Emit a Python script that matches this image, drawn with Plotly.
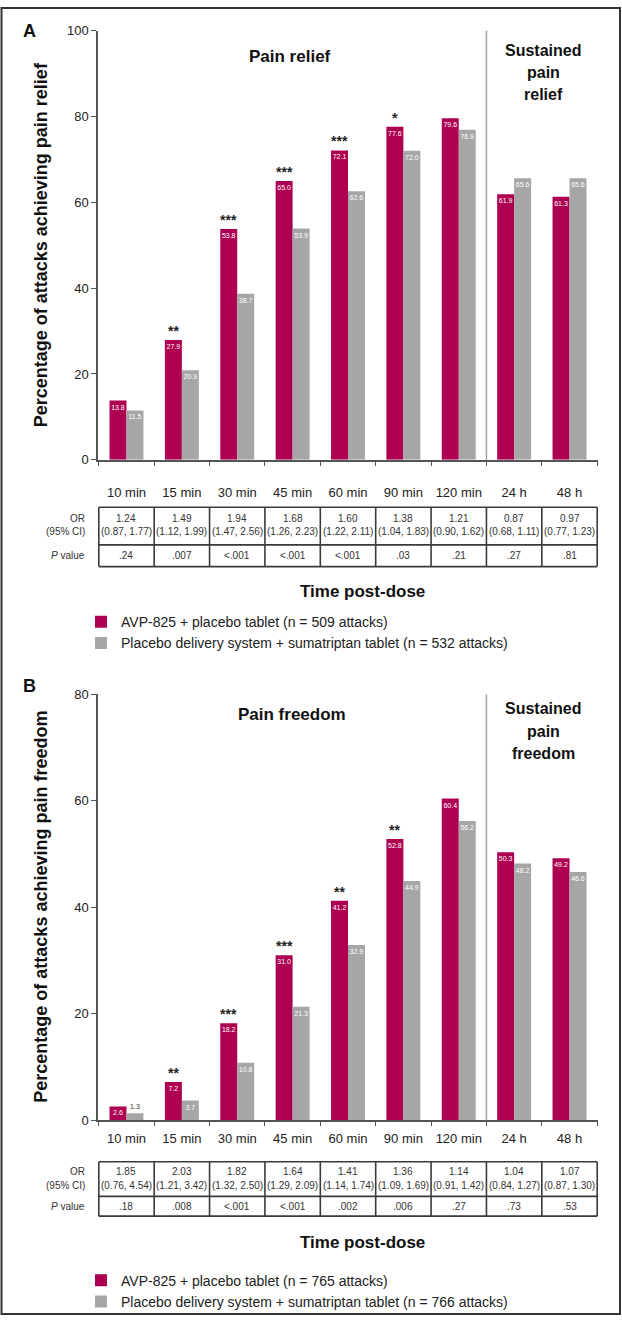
import plotly.graph_objects as go

# ------------------ CANVAS ------------------
W, H = 622, 1324
FONT = "Liberation Sans, Arial, sans-serif"
MAGENTA = "#AE0050"
GREY = "#A6A6A6"
AX = "#555555"
TXT = "#222222"


def px(x):
    return x / W


def py(y):
    return 1 - y / H


# ------------------ DATA ------------------
categories = ["10 min", "15 min", "30 min", "45 min", "60 min", "90 min", "120 min", "24 h", "48 h"]

# Panel A - pain relief
relief_avp = [13.8, 27.9, 53.8, 65.0, 72.1, 77.6, 79.6, 61.9, 61.3]
relief_suma = [11.5, 20.9, 38.7, 53.9, 62.6, 72.0, 76.9, 65.6, 65.6]
relief_stars = ["", "**", "***", "***", "***", "*", "", "", ""]
relief_or = ["1.24", "1.49", "1.94", "1.68", "1.60", "1.38", "1.21", "0.87", "0.97"]
relief_ci = ["(0.87, 1.77)", "(1.12, 1.99)", "(1.47, 2.56)", "(1.26, 2.23)", "(1.22, 2.11)",
             "(1.04, 1.83)", "(0.90, 1.62)", "(0.68, 1.11)", "(0.77, 1.23)"]
relief_p = [".24", ".007", "<.001", "<.001", "<.001", ".03", ".21", ".27", ".81"]

# Panel B - pain freedom
freedom_avp = [2.6, 7.2, 18.2, 31.0, 41.2, 52.8, 60.4, 50.3, 49.2]
freedom_suma = [1.3, 3.7, 10.8, 21.3, 32.9, 44.9, 56.2, 48.2, 46.6]
freedom_stars = ["", "**", "***", "***", "**", "**", "", "", ""]
freedom_or = ["1.85", "2.03", "1.82", "1.64", "1.41", "1.36", "1.14", "1.04", "1.07"]
freedom_ci = ["(0.76, 4.54)", "(1.21, 3.42)", "(1.32, 2.50)", "(1.29, 2.09)", "(1.14, 1.74)",
              "(1.09, 1.69)", "(0.91, 1.42)", "(0.84, 1.27)", "(0.87, 1.30)"]
freedom_p = [".18", ".008", "<.001", "<.001", ".002", ".006", ".27", ".73", ".53"]

legend_a = ["AVP-825 + placebo tablet (n = 509 attacks)",
            "Placebo delivery system + sumatriptan tablet (n = 532 attacks)"]
legend_b = ["AVP-825 + placebo tablet (n = 765 attacks)",
            "Placebo delivery system + sumatriptan tablet (n = 766 attacks)"]

fig = go.Figure()


# ------------------ BARS ------------------
def add_bars(values, name, color, xa, ya, leg):
    small = [v < 2 for v in values]  # too short to hold its label
    fig.add_trace(go.Bar(
        x=categories, y=values, name=name, marker_color=color,
        marker_line_width=0,
        text=[f"{v:.1f}" for v in values],
        textposition=["outside" if s else "inside" for s in small],
        insidetextanchor="end",
        textangle=0,
        constraintext="none",
        cliponaxis=False,
        textfont=dict(size=7, family=FONT, color=["#333333" if s else "white" for s in small]),
        xaxis=xa, yaxis=ya, legend=leg,
    ))


add_bars(relief_avp, legend_a[0], MAGENTA, "x", "y", "legend")
add_bars(relief_suma, legend_a[1], GREY, "x", "y", "legend")
add_bars(freedom_avp, legend_b[0], MAGENTA, "x2", "y2", "legend2")
add_bars(freedom_suma, legend_b[1], GREY, "x2", "y2", "legend2")

# significance stars above AVP-825 bars
for xr, yr, vals, stars in (("x", "y", relief_avp, relief_stars), ("x2", "y2", freedom_avp, freedom_stars)):
    for i, (v, s) in enumerate(zip(vals, stars)):
        if s:
            fig.add_annotation(x=i, y=v, xref=xr, yref=yr, text=f"<b>{s}</b>", showarrow=False,
                               xshift=-8.5, yshift=-1, yanchor="bottom",
                               font=dict(size=14, family=FONT, color=TXT))

# ------------------ AXES ------------------
xcommon = dict(type="category", categoryorder="array", categoryarray=categories,
               tickson="boundaries", ticks="outside", ticklen=4, tickcolor=AX, tickwidth=1.2,
               tickangle=0,
               showline=True, linecolor=AX, linewidth=1.5, showgrid=False,
               tickfont=dict(size=13, family=FONT, color=TXT))
ycommon = dict(ticks="outside", ticklen=5, tickcolor=AX, tickwidth=1.2, showline=True,
               linecolor=AX, linewidth=1.5, showgrid=False, zeroline=False,
               tickfont=dict(size=13, family=FONT, color=TXT))

fig.update_layout(
    xaxis=dict(domain=[px(98), px(598)], anchor="y", ticklabelstandoff=20, **xcommon),
    yaxis=dict(domain=[py(458), py(24)], anchor="x", range=[0, 100],
               tickvals=[0, 20, 40, 60, 80, 100], **ycommon),
    xaxis2=dict(domain=[px(98), px(598)], anchor="y2", ticklabelstandoff=5, **xcommon),
    yaxis2=dict(domain=[py(1126), py(695)], anchor="x2", range=[0, 80],
                tickvals=[0, 20, 40, 60, 80], **ycommon),
    barmode="group", bargap=0.387, bargroupgap=0,
)

# separator between acute and sustained time points
for xr, yr in (("x", "y domain"), ("x2", "y2 domain")):
    fig.add_shape(type="line", xref=xr, yref=yr, x0=6.5, x1=6.5, y0=0, y1=1,
                  line=dict(color="#A0A0A0", width=1.5))


# ------------------ TABLES ------------------
def add_table(xr, top, mid, bot, y_or, y_ci, y_p, or_vals, ci_vals, p_vals):
    line = dict(color="#3a3a3a", width=1.6)
    for y in (top, mid, bot):
        fig.add_shape(type="line", xref=xr, yref="paper", x0=-0.5, x1=8.5, y0=py(y), y1=py(y), line=line)
    for i in range(10):
        fig.add_shape(type="line", xref=xr, yref="paper", x0=i - 0.5, x1=i - 0.5,
                      y0=py(top), y1=py(bot), line=line)
    tf = dict(size=10, family=FONT, color="#333333")
    for i in range(9):
        for y, vals in ((y_or, or_vals), (y_ci, ci_vals), (y_p, p_vals)):
            fig.add_annotation(x=i, y=py(y), xref=xr, yref="paper", text=vals[i], showarrow=False,
                               xanchor="center", yanchor="middle", font=tf)
    for y, t in ((y_or, "OR"), (y_ci, "(95% CI)"), (y_p, "<i>P</i> value")):
        fig.add_annotation(x=px(87), y=py(y), xref="paper", yref="paper", text=t, showarrow=False,
                           xanchor="right", yanchor="middle", font=tf)


add_table("x", 506, 544, 566, 517, 531, 555, relief_or, relief_ci, relief_p)
add_table("x2", 1168, 1203, 1223, 1178, 1192, 1213, freedom_or, freedom_ci, freedom_p)


# ------------------ TEXT ------------------
def label(x, y, text, size, bold=True, angle=0):
    fig.add_annotation(x=px(x), y=py(y), xref="paper", yref="paper",
                       text=f"<b>{text}</b>" if bold else text, showarrow=False,
                       textangle=angle, xanchor="center", yanchor="middle",
                       font=dict(size=size, family=FONT, color="#111111"))


label(30, 24, "A", 18)
label(30, 687, "B", 18)
label(41, 241, "Percentage of attacks achieving pain relief", 18, angle=-90)
label(41, 910, "Percentage of attacks achieving pain freedom", 18, angle=-90)
label(290, 50, "Pain relief", 17)
label(292, 716, "Pain freedom", 17)
for y, t in ((44, "Sustained"), (66, "pain"), (88, "relief")):
    label(543, y, t, 16)
for y, t in ((710, "Sustained"), (733, "pain"), (755, "freedom")):
    label(543, y, t, 16)
label(362, 591, "Time post-dose", 17)
label(362, 1250, "Time post-dose", 17)

# frame round the whole figure
fig.add_shape(type="rect", xref="paper", yref="paper", x0=px(1.5), x1=px(620), y0=py(1322), y1=py(1),
              line=dict(color="#333333", width=2))

# ------------------ LAYOUT ------------------
legcommon = dict(xanchor="left", yanchor="top", bgcolor="rgba(0,0,0,0)", tracegroupgap=0,
                 traceorder="normal", font=dict(size=14, family=FONT, color=TXT))
fig.update_layout(
    width=W, height=H,
    margin=dict(l=0, r=0, t=0, b=0),
    paper_bgcolor="white", plot_bgcolor="white",
    font=dict(family=FONT, color=TXT),
    showlegend=True,
    legend=dict(x=px(81), y=py(606), **legcommon),
    legend2=dict(x=px(81), y=py(1272), **legcommon),
)

fig.write_html("out.html", config={"displayModeBar": False},
               post_script="document.body.style.margin='0';document.body.style.overflow='hidden';")
